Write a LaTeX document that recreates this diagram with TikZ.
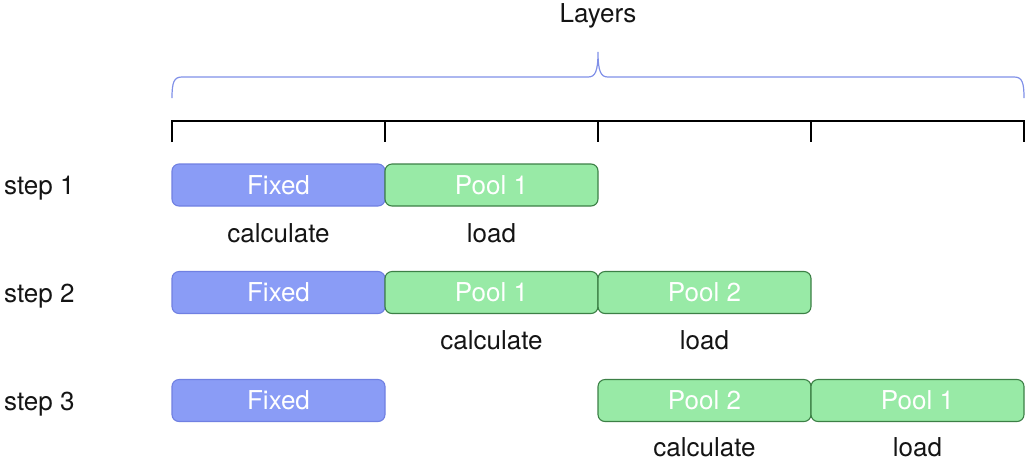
\documentclass[tikz,border=0pt]{standalone}
\usepackage{fontspec}
\setmainfont{TeX Gyre Heros}
\definecolor{fixfill}{RGB}{138,156,246}
\definecolor{fixdraw}{RGB}{112,128,226}
\definecolor{poolfill}{RGB}{152,234,166}
\definecolor{pooldraw}{RGB}{60,128,70}
\definecolor{bracecol}{RGB}{128,144,232}
\definecolor{txt}{RGB}{20,20,20}
\tikzset{
  blk/.style={minimum width=213pt, minimum height=42pt, inner sep=0pt, rounded corners=7pt, line width=1.1pt, text=white, font=\fontsize{26}{30}\selectfont},
  fixblk/.style={blk, fill=fixfill, draw=fixdraw},
  poolblk/.style={blk, fill=poolfill, draw=pooldraw},
  lbl/.style={text=txt, inner sep=0pt, font=\fontsize{26}{30}\selectfont},
}
\begin{document}
\begin{tikzpicture}[x=1pt,y=-1pt]
\useasboundingbox (0,0) rectangle (1027,467);
% title
\node[lbl] (title) at (598,16) {Layers};
% brace
\draw[bracecol, line width=1.2pt] (172,98) .. controls (172,82) and (174,77) .. (182,77) -- (588,77) .. controls (595,77) and (598,72) .. (598,52) .. controls (598,72) and (601,77) .. (608,77) -- (1014,77) .. controls (1022,77) and (1024,82) .. (1024,98);
% ruler
\draw[black, line width=2.8pt] (172,142) -- (172,121) -- (1024,121) -- (1024,142);
\foreach \x in {385,598,811} \draw[black, line width=2.8pt] (\x,121) -- (\x,142);
% step labels
\node[lbl, anchor=base west] (s1) at (4,194) {step 1};
\node[lbl, anchor=base west] (s2) at (4,302) {step 2};
\node[lbl, anchor=base west] (s3) at (4,410) {step 3};
% row 1
\node[fixblk] (f1) at (278.5,185) {Fixed};
\node[poolblk] (p11) at (491.5,185) {Pool 1};
\node[lbl] (c1) at (278.5,233) {calculate};
\node[lbl] (l1) at (491.5,233) {load};
% row 2
\node[fixblk] (f2) at (278.5,292.5) {Fixed};
\node[poolblk] (p21) at (491.5,292.5) {Pool 1};
\node[poolblk] (p22) at (704.5,292.5) {Pool 2};
\node[lbl] (c2) at (491.5,340) {calculate};
\node[lbl] (l2) at (704.5,340) {load};
% row 3
\node[fixblk] (f3) at (278.5,400.5) {Fixed};
\node[poolblk] (p32) at (704.5,400.5) {Pool 2};
\node[poolblk] (p31) at (917.5,400.5) {Pool 1};
\node[lbl] (c3) at (704.5,447) {calculate};
\node[lbl] (l3) at (917.5,447) {load};
\end{tikzpicture}
\end{document}
